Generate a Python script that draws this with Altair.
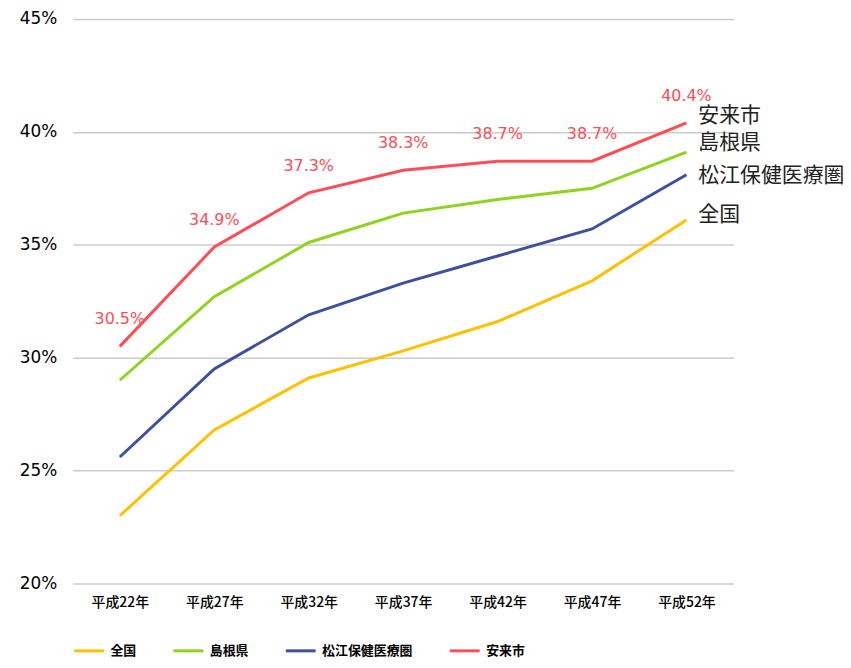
import altair as alt
import pandas as pd

years = ["平成22年", "平成27年", "平成32年", "平成37年", "平成42年", "平成47年", "平成52年"]
series_names = ["全国", "島根県", "松江保健医療圏", "安来市"]
zenkoku = [23.0, 26.8, 29.1, 30.3, 31.6, 33.4, 36.1]
shimane = [29.0, 32.7, 35.1, 36.4, 37.0, 37.5, 39.1]
matsue = [25.6, 29.5, 31.9, 33.3, 34.5, 35.7, 38.1]
yasugi = [30.5, 34.9, 37.3, 38.3, 38.7, 38.7, 40.4]
colors = ["#FFC000", "#8FD31E", "#3F4FA0", "#FF4D57"]

values = [zenkoku, shimane, matsue, yasugi]
rows = []
for name, vals in zip(series_names, values):
    for y, v in zip(years, vals):
        rows.append({"year": y, "series": name, "value": v})
df = pd.DataFrame(rows)
df_red = pd.DataFrame({"year": years, "value": yasugi, "label": [f"{v:.1f}%" for v in yasugi]})

x_enc = alt.X("year:N", sort=years, title=None,
              scale=alt.Scale(type="point", padding=0.5),
              axis=alt.Axis(labelAngle=0, ticks=False, domain=False, grid=False,
                            labelFont="Noto Sans CJK JP", labelFontSize=14, labelColor="#000",
                            labelFontWeight=500, labelPadding=12))
y_enc = alt.Y("value:Q", title=None,
              scale=alt.Scale(domain=[20, 45], nice=False, zero=False),
              axis=alt.Axis(values=[20, 25, 30, 35, 40, 45], labelExpr="datum.value + '%'",
                            ticks=False, domain=False, grid=True, gridColor="#CCCCCC",
                            gridWidth=1.5, labelFont="DejaVu Sans", labelFontSize=17,
                            labelColor="#000", labelPadding=16))

lines = alt.Chart(df).mark_line(strokeWidth=3).encode(
    x=x_enc, y=y_enc,
    color=alt.Color("series:N", sort=series_names,
                    scale=alt.Scale(domain=series_names, range=colors),
                    legend=alt.Legend(title=None, orient="none", direction="horizontal",
                                      legendX=0, legendY=619, symbolType="stroke",
                                      symbolSize=900, symbolStrokeWidth=3,
                                      labelFont="Noto Sans CJK JP", labelFontSize=13,
                                      labelFontWeight="bold", labelColor="#000",
                                      labelOffset=5, columnPadding=30)),
    order=alt.Order("series:N")
)

red_labels = alt.Chart(df_red).mark_text(dy=-27, fontSize=16, font="DejaVu Sans",
                                         color="#FF4D57").encode(
    x=alt.X("year:N", sort=years), y="value:Q", text="label:N")

offsets = [-5, -9, 1, -7]
end_layers = []
for name, vals, off in zip(series_names, values, offsets):
    d = pd.DataFrame({"year": [years[-1]], "value": [vals[-1]], "label": [name]})
    end_layers.append(
        alt.Chart(d).mark_text(align="left", dx=12, dy=off, fontSize=21,
                               font="Noto Sans CJK JP", color="#222").encode(
            x=alt.X("year:N", sort=years), y="value:Q", text="label:N"))

chart = alt.layer(lines, red_labels, *end_layers).properties(
    width=665, height=568,
    padding={"left": 65, "top": 9, "right": 110, "bottom": 75},
    autosize=alt.AutoSizeParams(type="none"),
).configure_view(stroke=None)

chart.save("out.html", embed_options={"renderer": "svg", "actions": False})
